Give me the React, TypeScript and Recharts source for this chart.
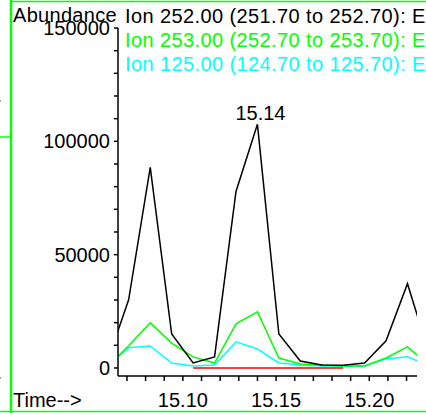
import { LineChart, Line, XAxis, YAxis, LabelList } from "recharts";

// scan times (min)
const times = [15.0594, 15.0709, 15.0825, 15.094, 15.1055, 15.117, 15.1285, 15.14, 15.1515, 15.163, 15.1745, 15.186, 15.1975, 15.209, 15.2205, 15.232];
const ion252 = [2500, 30100, 88500, 15000, 2200, 4900, 77900, 107500, 15000, 3100, 1300, 1200, 2200, 12000, 37200, 6600];
const ion253 = [500, 9800, 19900, 11000, 4900, 2200, 19500, 24800, 4400, 1800, 1300, 900, 900, 4400, 9300, 1200];
const ion125 = [900, 8900, 9700, 2200, 900, 1300, 11500, 8400, 2200, 1300, 900, 900, 900, 4000, 4900, 1000];
const baseline = [null, null, null, null, 0, 0, 0, 0, 0, 0, 0, 0, null, null, null, null];

const yTicks = [0, 10000, 20000, 30000, 40000, 50000, 60000, 70000, 80000, 90000, 100000, 110000, 120000, 130000, 140000, 150000];
const xTicks = [15.07, 15.08, 15.09, 15.1, 15.11, 15.12, 15.13, 15.14, 15.15, 15.16, 15.17, 15.18, 15.19, 15.2, 15.21, 15.22];
const yLabeled = [0, 50000, 100000, 150000];
const xLabeled = ["15.10", "15.15", "15.20"];

const legendLines = [
  { text: "Ion 252.00 (251.70 to 252.70): E0112.D\\data.ms", color: "#000000" },
  { text: "Ion 253.00 (252.70 to 253.70): E0112.D\\data.ms", color: "#00ff00" },
  { text: "Ion 125.00 (124.70 to 125.70): E0112.D\\data.ms", color: "#00ffff" },
];

const peakTime = 15.14;

const data = times.map((t, i) => ({
  t,
  a: ion252[i],
  b: ion253[i],
  c: ion125[i],
  r: baseline[i],
}));

const FONT = "'Liberation Sans', Arial, sans-serif";

const YTick = (props: any) => {
  const { x, y, payload } = props;
  if (!yLabeled.includes(payload.value)) return <g />;
  return (
    <text x={x} y={y} dy={7} textAnchor="end" fontSize={20} fontFamily={FONT} fill="#000">
      {payload.value}
    </text>
  );
};

const XTick = (props: any) => {
  const { x, y, payload } = props;
  const label = payload.value.toFixed(2);
  if (!xLabeled.includes(label)) return <g />;
  return (
    <text x={x} y={y} dy={14} textAnchor="middle" fontSize={20} fontFamily={FONT} fill="#000">
      {label}
    </text>
  );
};

const PeakLabel = (props: any) => {
  const { x, y, index } = props;
  if (times[index] !== peakTime) return null;
  return (
    <text x={x + 3} y={y - 4} textAnchor="middle" fontSize={20} fontFamily={FONT} fill="#000">
      {peakTime.toFixed(2)}
    </text>
  );
};

export default function App() {
  return (
    <div style={{ position: "fixed", left: 0, top: 0, width: 426, height: 413, overflow: "hidden", background: "#fff" }}>
      <LineChart width={426} height={413} data={data} margin={{ top: 28, right: 9, bottom: 0, left: 0 }}>
        <XAxis
          dataKey="t"
          type="number"
          domain={[15.0652, 15.2256]}
          allowDataOverflow
          ticks={xTicks}
          interval={0}
          height={37}
          tickSize={5}
          tickMargin={12}
          tick={XTick}
          stroke="#000"
          strokeWidth={1.5}
        />
        <YAxis
          type="number"
          domain={[-3540, 150000]}
          allowDataOverflow
          ticks={yTicks}
          interval={0}
          width={118}
          tickSize={4}
          tickMargin={4}
          tick={YTick}
          stroke="#000"
          strokeWidth={1.5}
        />
        <Line dataKey="r" stroke="#ff0000" strokeWidth={1.5} dot={false} isAnimationActive={false} connectNulls={false} />
        <Line dataKey="c" stroke="#00ffff" strokeWidth={1.5} dot={false} isAnimationActive={false} />
        <Line dataKey="b" stroke="#00ff00" strokeWidth={1.5} dot={false} isAnimationActive={false} />
        <Line dataKey="a" stroke="#000000" strokeWidth={1.5} dot={false} isAnimationActive={false}>
          <LabelList dataKey="a" content={PeakLabel} />
        </Line>
      </LineChart>
      <svg width={426} height={413} style={{ position: "absolute", left: 0, top: 0, pointerEvents: "none" }}>
        {/* frame of the panel */}
        <line x1={11} y1={0} x2={11} y2={413} stroke="#00ff00" strokeWidth={2.5} />
        <line x1={11} y1={1.5} x2={426} y2={1.5} stroke="#00ff00" strokeWidth={1.5} />
        <line x1={11} y1={411.5} x2={426} y2={411.5} stroke="#00ff00" strokeWidth={1.5} />
        <line x1={0} y1={137} x2={10} y2={137} stroke="#00ff00" strokeWidth={1.5} />
        <line x1={0} y1={411.5} x2={10} y2={411.5} stroke="#00ff00" strokeWidth={1.5} />
        <rect x={0} y={100} width={1} height={1.5} fill="#888" />
        <rect x={0} y={377} width={1} height={1.5} fill="#888" />
        <text x={13} y={22} fontSize={20} letterSpacing={0.3} fontFamily={FONT} fill="#000">Abundance</text>
        <text x={13} y={407} fontSize={20} fontFamily={FONT} fill="#000">Time--&gt;</text>
        {legendLines.map((l, i) => (
          <text key={i} x={125} y={23 + i * 24} fontSize={20} letterSpacing={0.4} fontFamily={FONT} fill={l.color}>
            {l.text}
          </text>
        ))}
      </svg>
    </div>
  );
}
